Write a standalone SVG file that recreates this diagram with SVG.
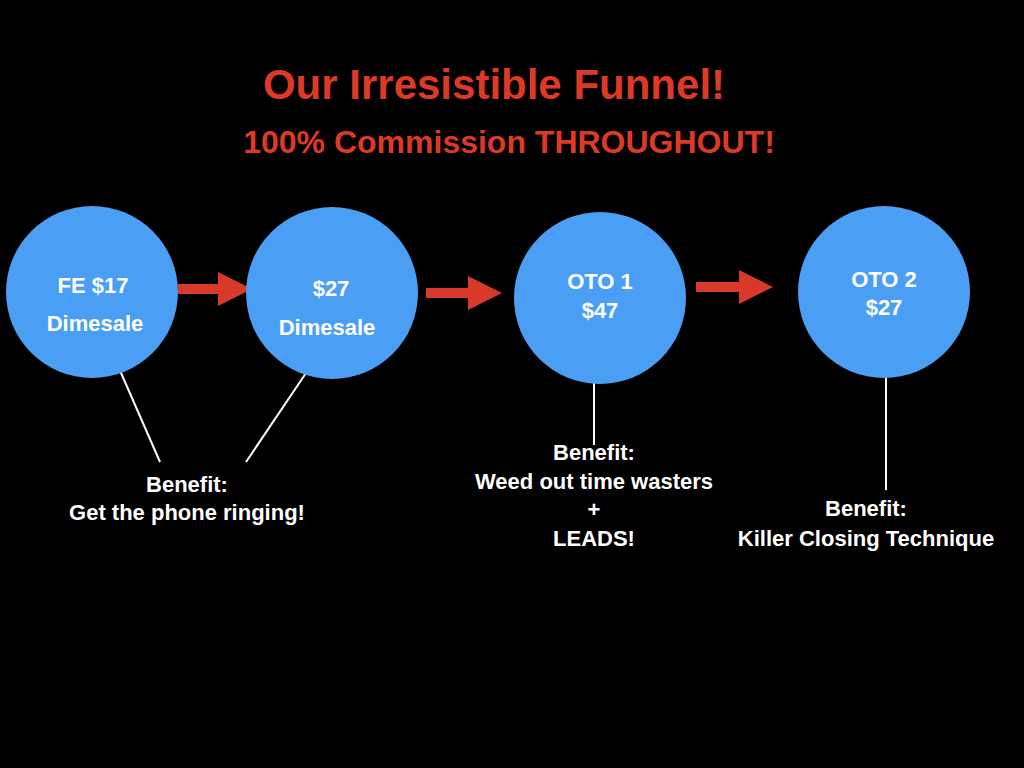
<svg xmlns="http://www.w3.org/2000/svg" width="1024" height="768" viewBox="0 0 1024 768">
<style>
text{font-family:"Liberation Sans",Arial,sans-serif;font-weight:bold;text-anchor:middle}
.n{fill:#4a9ff5}
.t{fill:#fff;font-size:22px}
.l{stroke:#fff;stroke-width:2}
.a{fill:#d9392a}
</style>
<rect width="1024" height="768" fill="#000"/>
<text x="494" y="99" font-size="42" fill="#dc3a26">Our Irresistible Funnel!</text>
<text x="509" y="153" font-size="32" fill="#dc3a26">100% Commission THROUGHOUT!</text>
<g id="connectors">
<polygon class="a" points="178,284 218,284 218,272 252,289 218,306 218,294 178,294"/>
<polygon class="a" points="426,288 468,288 468,276 502,293 468,310 468,298 426,298"/>
<polygon class="a" points="696,282 739,282 739,270 773,287 739,304 739,292 696,292"/>
<line class="l" x1="118" y1="366" x2="160" y2="462"/>
<line class="l" x1="306" y1="373" x2="246" y2="462"/>
<line class="l" x1="594" y1="383" x2="594" y2="445"/>
<line class="l" x1="886" y1="373" x2="886" y2="490"/>
</g>
<g id="n1"><circle class="n" cx="92" cy="292" r="86"/>
<text class="t" x="93" y="293">FE $17</text><text class="t" x="95" y="331">Dimesale</text></g>
<g id="n2"><circle class="n" cx="332" cy="293" r="86"/>
<text class="t" x="331" y="296">$27</text><text class="t" x="327" y="335">Dimesale</text></g>
<g id="n3"><circle class="n" cx="600" cy="298" r="86"/>
<text class="t" x="600" y="289">OTO 1</text><text class="t" x="600" y="318">$47</text></g>
<g id="n4"><circle class="n" cx="884" cy="292" r="86"/>
<text class="t" x="884" y="287">OTO 2</text><text class="t" x="884" y="315">$27</text></g>
<g id="labels">
<text class="t" x="187" y="492">Benefit:</text><text class="t" x="187" y="520">Get the phone ringing!</text>
<text class="t" x="594" y="460">Benefit:</text><text class="t" x="594" y="489">Weed out time wasters</text>
<text class="t" x="594" y="517">+</text><text class="t" x="594" y="546">LEADS!</text>
<text class="t" x="866" y="516">Benefit:</text><text class="t" x="866" y="546">Killer Closing Technique</text>
</g>
</svg>
